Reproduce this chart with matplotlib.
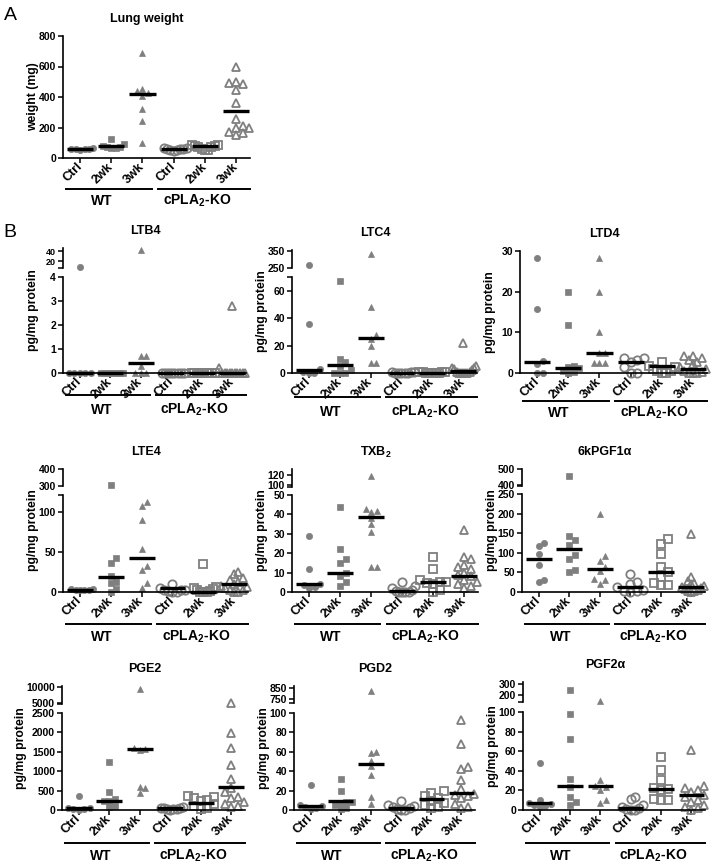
import numpy as np
import matplotlib
matplotlib.use("Agg")
import matplotlib.pyplot as plt
from matplotlib.transforms import blended_transform_factory, ScaledTranslation
from matplotlib.lines import Line2D

plt.rcParams['font.family'] = ['Liberation Sans', 'DejaVu Sans']
plt.rcParams['font.weight'] = 'bold'
plt.rcParams['mathtext.fontset'] = 'custom'
plt.rcParams['mathtext.rm'] = 'Liberation Sans:bold'
plt.rcParams['mathtext.bf'] = 'Liberation Sans:bold'

W, H = 712, 865
GRAY = '#7f7f7f'

groups = ["Ctrl", "2wk", "3wk", "Ctrl", "2wk", "3wk"]
genotypes = ["WT", r"cPLA$_\mathbf{2}$-KO"]

# values per group: WT Ctrl, WT 2wk, WT 3wk, KO Ctrl, KO 2wk, KO 3wk
lung_weight = [
    [55, 58, 60, 62, 65, 60],
    [124, 93, 80, 72, 70, 68, 65],
    [690, 455, 440, 425, 405, 320, 240, 100],
    [48, 52, 55, 58, 60, 62, 64, 66],
    [85, 82, 78, 76, 74, 70, 62, 55, 50],
    [598, 500, 490, 485, 446, 363, 259, 211, 200, 196, 170, 163, 152],
]
lung_weight_med = [60, 76, 417, 61, 76, 309]

ltb4 = [
    [9, 0, 0, 0, 0, 0],
    [0, 0, 0, 0, 0, 0, 0, 0],
    [43, 0.7, 0.7, 0.3, 0, 0, 0],
    [0, 0, 0, 0, 0, 0, 0, 0],
    [0, 0, 0, 0, 0, 0, 0, 0, 0, 0],
    [2.8, 0.2, 0, 0, 0, 0, 0, 0, 0, 0, 0, 0],
]
ltb4_med = [0, 0, 0.4, 0, 0, 0]

ltc4 = [
    [266, 36, 3, 1, 0, 0],
    [67, 10, 8, 5, 2, 0, 0, 0],
    [334, 48, 28, 25, 20, 7, 7],
    [1, 0.5, 0.5, 0, 0, 0, 0, 0],
    [1, 0.8, 0.5, 0.5, 0, 0, 0, 0, 0],
    [22, 5, 4, 4, 3, 2, 1, 1, 0, 0, 0, 0, 0],
]
ltc4_med = [2, 6, 25.5, 0.3, 0.3, 1.2]

ltd4 = [
    [28.2, 15.8, 3, 2.2, 0, 0],
    [20, 11.7, 1.8, 1.5, 1.2, 0.5, 0.3, 0],
    [28.2, 19.8, 10.2, 5, 4.8, 2.5, 2.5, 2.5],
    [3.7, 3.7, 3.2, 2.8, 1.5, 0, 0],
    [2.7, 1.7, 1.5, 1, 0.5, 0.5, 0, 0],
    [4.3, 4.3, 3.7, 3.3, 2.8, 2.2, 1.5, 1, 0.5, 0.3, 0, 0, 0],
]
ltd4_med = [2.6, 1.2, 4.9, 2.8, 1.8, 1.0]

lte4 = [
    [4, 4, 3, 3, 2, 2],
    [306, 42, 36, 20, 12.5, 11, 4, 0],
    [112, 107, 90, 54, 32, 27, 11, 5],
    [10, 5, 3, 2, 2, 1, 0, 0],
    [35, 6, 5, 4, 2, 1, 0, 0, 0],
    [25, 22, 17, 15, 12, 10, 8, 6, 5, 3, 2, 0, 0],
]
lte4_med = [3, 18.7, 43, 4.6, 0.5, 10.5]

txb2 = [
    [29, 12, 4, 3.5, 2.6, 2],
    [44, 22, 17, 15, 10, 8, 5, 3],
    [119, 43, 42, 41, 38, 35, 31, 13, 13],
    [5, 3, 2, 1, 0.5, 0, 0, 0, 0],
    [18, 12, 6, 5, 5, 4.5, 4, 1, 0],
    [32, 18, 17, 14, 13, 12, 10, 9, 8, 6, 5, 4, 3, 2],
]
txb2_med = [4, 10, 38.5, 0.3, 5, 8]

kpgf1a = [
    [124, 118, 98, 68, 30, 25],
    [458, 143, 132, 119, 94, 83, 55, 51],
    [200, 92, 79, 64, 54, 34, 30, 20],
    [47, 25, 20, 12, 5, 3, 2, 0],
    [136, 122, 96, 64, 51, 38, 23, 19, 18],
    [148, 38, 28, 22, 20, 15, 12, 10, 8, 5, 3, 2, 0],
]
kpgf1a_med = [84, 109, 58, 13, 50, 13]

pge2 = [
    [360, 50, 40, 30, 20, 10],
    [1241, 471, 282, 240, 220, 103, 80],
    [9350, 1610, 1580, 1540, 600, 574, 445],
    [80, 60, 50, 40, 30, 20, 15, 10],
    [368, 340, 300, 250, 220, 150, 100, 50, 20],
    [5000, 1986, 1600, 1156, 796, 574, 471, 340, 300, 214, 150, 111, 80],
]
pge2_med = [51, 240, 1575, 43, 188, 582]

pgd2 = [
    [26, 4.8, 4, 3, 2, 1],
    [31.7, 20, 8.6, 8, 7, 5, 2, 1],
    [824, 60, 59, 50.7, 45, 36, 13, 6.2],
    [9.7, 5, 4, 3, 2, 1, 0.5, 0],
    [20, 18, 14.8, 12.8, 9.7, 7.6, 5.2, 3.4, 2],
    [93, 68, 44.8, 42, 31, 21.7, 17, 15, 14, 12, 6, 3, 2],
]
pgd2_med = [4.1, 9.3, 47.6, 2, 11, 18]

pgf2a = [
    [48, 10.3, 7, 6, 5, 4, 3],
    [241, 98, 72, 32, 23.4, 13, 8, 5],
    [145, 31, 25, 23, 20, 10.6, 7],
    [13, 11.3, 5, 3, 2, 1, 0, 0],
    [54, 40.5, 31, 22.3, 21, 20, 11.3, 10, 10],
    [61, 24, 22.7, 20, 18, 15, 13, 10, 8, 5, 3, 2, 0],
]
pgf2a_med = [6.9, 24, 25, 2, 21, 15]

markers = ['o', 's', '^', 'o', 's', '^']
filled = [True, True, True, False, False, False]

fig = plt.figure(figsize=(W / 100, H / 100), dpi=100)


def swarm(ypix, step, pxunit, cap=0.42):
    # simple beeswarm in pixel space
    order = np.argsort(ypix)
    placed = []
    offs = np.zeros(len(ypix))
    for i in order:
        for k in range(60):
            cand = ((k + 1) // 2) * (1 if k % 2 else -1) * step
            if all((cand - px) ** 2 + (ypix[i] - py) ** 2 >= step ** 2 for px, py in placed):
                break
        placed.append((cand, ypix[i]))
        offs[i] = cand
    offs = offs / pxunit
    m = np.abs(offs).max() if len(offs) else 0
    if m > cap:
        offs *= cap / m
    return offs


def style(ax, bottom=True):
    ax.spines['top'].set_visible(False)
    ax.spines['right'].set_visible(False)
    ax.spines['left'].set_linewidth(1.2)
    ax.spines['bottom'].set_linewidth(1.2)
    ax.tick_params(axis='y', which='both', length=3.5, width=1.1, pad=1.5, labelsize=7.5)
    ax.tick_params(axis='x', length=3.5, width=1.1, pad=1.5, labelsize=9)
    if not bottom:
        ax.spines['bottom'].set_visible(False)
        ax.set_xticks([])
    ax.set_xlim(-0.55, 5.45)
    ax.patch.set_alpha(0)


def panel(L, R, T, B, lim, ticks, values, medians, title, ylabel, upper=None,
          line_off=30, label_off=44, ylab_dx=30, upper_fs=7.5):
    ax = fig.add_axes([L / W, 1 - B / H, (R - L) / W, (B - T) / H])
    style(ax)
    ax.set_ylim(*lim)
    ax.set_yticks(ticks)
    ax.set_xticks(range(6))
    ax.set_xticklabels(groups, rotation=45, ha='right', va='center', rotation_mode='anchor')
    axu = None
    top = T
    if upper is not None:
        uT, uB, ulim, uticks = upper
        top = uT
        axu = fig.add_axes([L / W, 1 - uB / H, (R - L) / W, (uB - uT) / H])
        style(axu, bottom=False)
        axu.tick_params(axis='y', labelsize=upper_fs)
        axu.set_ylim(*ulim)
        axu.set_yticks(uticks)
        axu.set_yticks([ulim[0]], minor=True)
        if lim[1] not in ticks:
            ax.set_yticks([lim[1]], minor=True)
    pxunit = (R - L) / 6.0
    for i, vals in enumerate(values):
        vals = np.asarray(vals, dtype=float)
        for a, sel in ((ax, vals <= lim[1]), (axu, vals > lim[1])):
            if a is None or not sel.any():
                continue
            v = vals[sel]
            ypix = a.transData.transform(np.column_stack([np.zeros(len(v)), v]))[:, 1]
            offs = swarm(ypix, 5.5 if filled[i] else 7.0, pxunit)
            if filled[i]:
                a.plot(i + offs, v, ls='none', marker=markers[i], ms=4.5,
                       mfc=GRAY, mec=GRAY, mew=0.5, clip_on=False, zorder=2)
            else:
                a.plot(i + offs, v, ls='none', marker=markers[i], ms=6,
                       mfc='none', mec=GRAY, mew=1.3, clip_on=False, zorder=2)
        ax.plot([i - 0.42, i + 0.42], [medians[i], medians[i]], color='black',
                lw=2.4, solid_capstyle='butt', zorder=3, clip_on=False)

    # group lines + labels under the category labels
    tr = blended_transform_factory(ax.transData, ax.transAxes)
    for (x0, x1), name in zip([(-0.45, 2.3), (2.5, 5.45)], genotypes):
        off = ScaledTranslation(0, -line_off / 100, fig.dpi_scale_trans)
        fig.add_artist(Line2D([x0, x1], [0, 0], color='black', lw=1.4,
                              transform=tr + off, clip_on=False))
        offl = ScaledTranslation(0, -label_off / 100, fig.dpi_scale_trans)
        fig.text((x0 + x1) / 2 - 0.22, 0, name, transform=tr + offl, ha='center',
                 va='center', fontsize=10)

    fig.text((L + 0.45 * (R - L)) / W, 1 - (top - 17) / H, title, ha='center',
             va='center', fontsize=9)
    fig.text((L - ylab_dx) / W, 1 - ((top + B) / 2) / H, ylabel, rotation=90,
             ha='center', va='center', fontsize=8.8)
    return ax


fig.text(10 / W, 1 - 16 / H, "A", fontsize=14, fontweight='normal', ha='center', va='center')
fig.text(10 / W, 1 - 233 / H, "B", fontsize=14, fontweight='normal', ha='center', va='center')

panel(63, 250, 36, 158, (0, 800), [0, 200, 400, 600, 800], lung_weight, lung_weight_med,
      "Lung weight", "weight (mg)", line_off=31, label_off=43)

# row 1
panel(63, 246, 277, 373, (0, 4), [0, 1, 2, 3, 4], ltb4, ltb4_med, "LTB4", "pg/mg protein",
      upper=(248, 268, (7, 46), [20, 40]), line_off=22, label_off=37, upper_fs=6.5)
panel(292, 477, 277, 373, (0, 70), [0, 20, 40, 60], ltc4, ltc4_med, "LTC4", "pg/mg protein",
      upper=(250, 268, (250, 355), [250, 350]), line_off=24, label_off=39)
panel(520, 707, 251, 373, (0, 30), [0, 10, 20, 30], ltd4, ltd4_med, "LTD4", "pg/mg protein",
      line_off=28, label_off=40)

# row 2
panel(63, 248, 495, 592, (0, 121), [0, 50, 100], lte4, lte4_med, "LTE4", "pg/mg protein",
      upper=(469, 486, (300, 402), [300, 400]), line_off=32, label_off=45)
panel(292, 478, 495, 592, (0, 50), [0, 10, 20, 30, 40, 50], txb2, txb2_med, r"TXB$_\mathbf{2}$",
      "pg/mg protein", upper=(469, 487, (96, 132), [100, 120]), line_off=32, label_off=45)
panel(522, 705, 494, 592, (0, 250), [0, 50, 100, 150, 200, 250], kpgf1a, kpgf1a_med,
      "6kPGF1α", "pg/mg protein", upper=(469, 486, (395, 502), [400, 500]),
      line_off=32, label_off=45)

# row 3
panel(62, 245, 713, 810, (0, 2500), [0, 500, 1000, 1500, 2000, 2500], pge2, pge2_med, "PGE2",
      "pg/mg protein", upper=(686, 704, (4800, 10300), [5000, 10000]), line_off=33, label_off=46,
      ylab_dx=41)
panel(294, 475, 713, 810, (0, 100), [0, 20, 40, 60, 80, 100], pgd2, pgd2_med, "PGD2",
      "pg/mg protein", upper=(686, 703, (714, 868), [750, 850]), line_off=33, label_off=46)
panel(523, 705, 712, 810, (0, 100), [0, 20, 40, 60, 80, 100], pgf2a, pgf2a_med, "PGF2α",
      "pg/mg protein", upper=(682, 702, (140, 315), [200, 300]), line_off=33, label_off=46)

fig.savefig("out.png", dpi=100)
